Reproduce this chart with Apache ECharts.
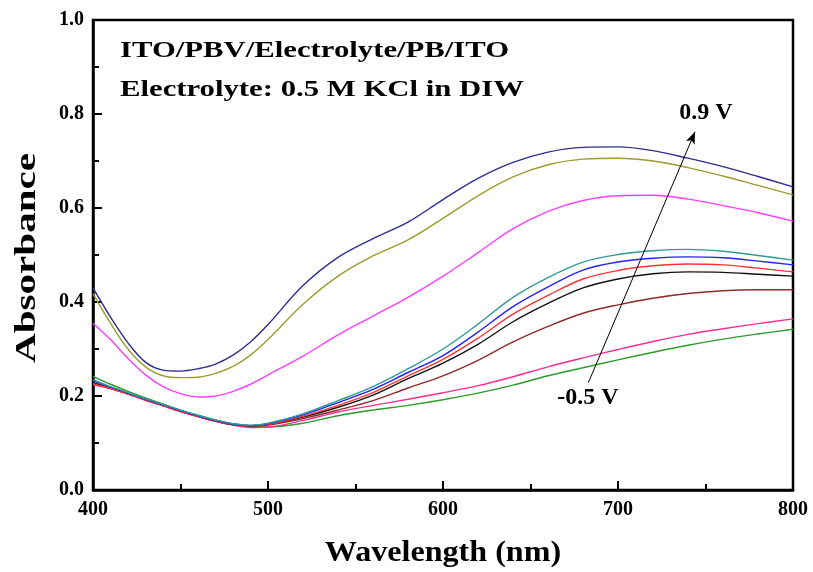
<!DOCTYPE html>
<html>
<head>
<meta charset="utf-8">
<script src="https://cdn.jsdelivr.net/npm/echarts@6/dist/echarts.min.js"></script>
<style>
  html, body { margin: 0; padding: 0; background: #fff; }
  #chart { width: 813px; height: 572px; }
</style>
</head>
<body>
<div id="chart"></div>
<script>
// wavelength grid (nm)
var wavelengths = [400,410,420,430,440,450,460,470,480,490,500,520,540,560,580,600,620,640,660,680,700,720,740,760,780,800];

// absorbance curves, bottom (-0.5 V) to top (0.9 V)
var absGreen   = [0.242,0.225,0.210,0.196,0.183,0.170,0.159,0.149,0.141,0.136,0.134,0.142,0.158,0.170,0.180,0.192,0.206,0.223,0.243,0.260,0.277,0.293,0.308,0.321,0.332,0.342];
var absPink    = [0.224,0.216,0.204,0.191,0.179,0.167,0.156,0.146,0.138,0.133,0.134,0.148,0.166,0.180,0.193,0.207,0.222,0.241,0.262,0.281,0.299,0.316,0.331,0.343,0.354,0.364];
var absBrown   = [0.229,0.217,0.205,0.192,0.180,0.168,0.157,0.147,0.139,0.136,0.138,0.152,0.170,0.190,0.217,0.243,0.276,0.315,0.348,0.376,0.394,0.408,0.418,0.424,0.426,0.426];
var absBlack   = [0.228,0.217,0.205,0.192,0.180,0.168,0.157,0.147,0.139,0.137,0.139,0.155,0.176,0.202,0.237,0.270,0.310,0.358,0.397,0.430,0.449,0.460,0.464,0.463,0.459,0.455];
var absRed     = [0.226,0.216,0.204,0.191,0.179,0.167,0.156,0.146,0.139,0.137,0.139,0.157,0.180,0.207,0.243,0.278,0.323,0.374,0.414,0.449,0.467,0.477,0.481,0.479,0.472,0.464];
var absBlue    = [0.232,0.219,0.206,0.193,0.181,0.169,0.158,0.148,0.140,0.137,0.141,0.160,0.186,0.214,0.250,0.286,0.336,0.390,0.432,0.468,0.485,0.493,0.496,0.494,0.487,0.479];
var absTeal    = [0.235,0.220,0.207,0.194,0.182,0.170,0.159,0.149,0.141,0.138,0.142,0.162,0.190,0.220,0.258,0.300,0.353,0.410,0.452,0.485,0.501,0.509,0.512,0.508,0.499,0.489];
var absMagenta = [0.355,0.320,0.280,0.245,0.220,0.205,0.198,0.200,0.210,0.225,0.245,0.285,0.330,0.370,0.410,0.455,0.505,0.556,0.593,0.616,0.626,0.627,0.619,0.605,0.590,0.572];
var absOlive   = [0.418,0.355,0.300,0.262,0.243,0.239,0.240,0.248,0.263,0.287,0.320,0.395,0.455,0.498,0.532,0.578,0.626,0.666,0.692,0.704,0.706,0.700,0.686,0.668,0.648,0.628];
var absNavy    = [0.430,0.368,0.313,0.272,0.255,0.253,0.258,0.268,0.287,0.315,0.352,0.435,0.495,0.535,0.570,0.618,0.663,0.697,0.719,0.729,0.730,0.722,0.706,0.688,0.667,0.645];

var curves = [
    { name: '-0.5 V', color: '#2e9a2e', values: absGreen },
    { name: 'c2',     color: '#ff2d8f', values: absPink },
    { name: 'c3',     color: '#8e2c2c', values: absBrown },
    { name: 'c4',     color: '#111111', values: absBlack },
    { name: 'c5',     color: '#ff3333', values: absRed },
    { name: 'c6',     color: '#2222ff', values: absBlue },
    { name: 'c7',     color: '#2f9a96', values: absTeal },
    { name: 'c8',     color: '#ff3dff', values: absMagenta },
    { name: 'c9',     color: '#9c9c2e', values: absOlive },
    { name: '0.9 V',  color: '#2e2e8f', values: absNavy }
];

// arrow from -0.5 V towards 0.9 V (data coords)
var arrowFrom = [683, 0.228];
var arrowTo = [744, 0.762];

var serif = '"Liberation Serif", "Times New Roman", serif';

function ChartLoad() {
    var dom = document.getElementById('chart');
    var chart = echarts.init(dom);

    var series = curves.map(function (c, i) {
        var s = {
            name: c.name,
            type: 'line',
            showSymbol: false,
            smooth: 0.35,
            lineStyle: { color: c.color, width: 1.4 },
            itemStyle: { color: c.color },
            data: wavelengths.map(function (w, j) { return [w, c.values[j]]; })
        };
        if (i === 3) {
            s.markLine = {
                silent: true,
                symbol: ['none', 'arrow'],
                symbolSize: [7, 12],
                label: { show: false },
                lineStyle: { color: '#000', width: 1, type: 'solid' },
                data: [[{ coord: arrowFrom }, { coord: arrowTo }]]
            };
        }
        return s;
    });

    var option = {
        animation: false,
        backgroundColor: '#fff',
        grid: {
            left: 93, right: 20, top: 20, bottom: 82,
            show: true, borderColor: '#000', borderWidth: 2.5,
            containLabel: false
        },
        xAxis: {
            type: 'value',
            min: 400, max: 800, interval: 100,
            axisLine: { lineStyle: { color: '#000', width: 2.5 } },
            axisTick: { inside: true, length: 9, lineStyle: { width: 2 } },
            minorTick: { show: true, splitNumber: 2, length: 6, lineStyle: { color: '#000', width: 2 } },
            splitLine: { show: false },
            axisLabel: { color: '#000', fontFamily: serif, fontWeight: 'bold', fontSize: 20, margin: 10 }
        },
        yAxis: {
            type: 'value',
            min: 0, max: 1, interval: 0.2,
            axisLine: { show: true, lineStyle: { color: '#000', width: 2.5 } },
            axisTick: { show: true, inside: true, length: 9, lineStyle: { width: 2 } },
            minorTick: { show: true, splitNumber: 2, length: 6, lineStyle: { color: '#000', width: 2 } },
            splitLine: { show: false },
            axisLabel: {
                color: '#000', fontFamily: serif, fontWeight: 'bold', fontSize: 20, margin: 9,
                formatter: function (v) { return v.toFixed(1); }
            }
        },
        graphic: [
            {
                type: 'text', x: 120, y: 51, scaleX: 1.28,
                style: { text: 'ITO/PBV/Electrolyte/PB/ITO', font: 'bold 24px ' + serif, fill: '#000', textVerticalAlign: 'middle' }
            },
            {
                type: 'text', x: 120, y: 90, scaleX: 1.28,
                style: { text: 'Electrolyte: 0.5 M KCl in DIW', font: 'bold 24px ' + serif, fill: '#000', textVerticalAlign: 'middle' }
            },
            {
                type: 'text', x: 706, y: 113,
                style: { text: '0.9 V', font: 'bold 24px ' + serif, fill: '#000', textAlign: 'center', textVerticalAlign: 'middle' }
            },
            {
                type: 'text', x: 588, y: 398,
                style: { text: '-0.5 V', font: 'bold 24px ' + serif, fill: '#000', textAlign: 'center', textVerticalAlign: 'middle' }
            },
            {
                type: 'text', x: 443, y: 553, scaleX: 1.07,
                style: { text: 'Wavelength (nm)', font: 'bold 30px ' + serif, fill: '#000', textAlign: 'center', textVerticalAlign: 'middle' }
            },
            {
                type: 'text', x: 27, y: 258, rotation: Math.PI / 2, scaleX: 1.37,
                style: { text: 'Absorbance', font: 'bold 30px ' + serif, fill: '#000', textAlign: 'center', textVerticalAlign: 'middle' }
            }
        ],
        series: series
    };

    chart.setOption(option, true);
}

ChartLoad();
</script>
</body>
</html>
